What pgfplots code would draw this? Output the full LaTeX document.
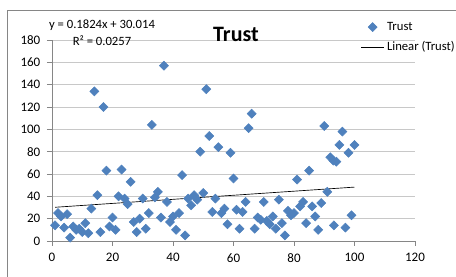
\documentclass[border=0pt]{standalone}
\usepackage{pgfplots}
\pgfplotsset{compat=1.18}
\usepackage{fontspec}
\setmainfont{Carlito}
\definecolor{mk}{RGB}{79,129,189}
\definecolor{gl}{RGB}{200,200,200}
\definecolor{ax}{RGB}{134,134,134}
\pgfplotstableread{
x y
1 14
2 25
3 22
4 12
5 24
6 3
7 13
8 10
9 11
10 8
11 16
12 7
13 29
14 134
15 41
16 8
17 120
18 63
19 13
20 21
21 10
22 40
23 64
24 38
25 33
26 53
27 17
28 8
29 20
30 38
31 11
32 25
33 104
34 39
35 44
36 21
37 157
38 35
39 17
40 22
41 10
42 25
43 59
44 5
45 38
46 32
47 41
48 37
49 80
50 43
51 136
52 94
53 26
54 38
55 84
56 25
57 29
58 15
59 79
60 56
61 28
62 11
63 26
64 35
65 101
66 114
67 11
68 21
69 19
70 35
71 18
72 15
73 22
74 11
75 37
76 16
77 5
78 27
79 23
80 25
81 55
82 31
83 35
84 16
85 63
86 31
87 22
88 10
89 34
90 103
91 44
92 75
93 72
93.2 14
94 71
95 86
96 98
97 12
98 79
99 23
100 86
}\trust
\begin{document}
\begin{tikzpicture}[x=0.75pt,y=0.75pt]
\path[use as bounding box] (0,0) rectangle (456,277);
\draw[ax, line width=0.6pt] (7,-5) -- (7,266.3) -- (470,266.3);
\begin{axis}[
  at={(39pt,27pt)}, anchor=south west,
  scale only axis, width=272.25pt, height=150.75pt,
  xmin=0, xmax=120, ymin=0, ymax=180,
  xtick={0,20,...,120}, ytick={0,20,...,180},
  axis lines*=left,
  axis line style={draw=ax, line width=0.6pt, -},
  tick align=outside, major tick length=3.75pt,
  tick style={draw=ax, line width=0.6pt},
  ymajorgrids, grid style={draw=gl, line width=0.6pt},
  ticklabel style={font=\fontsize{9.75}{11}\selectfont},
  /pgf/number format/assume math mode=true,
  yticklabel style={xshift=-1.5pt},
  xticklabel style={yshift=-2pt},
  legend style={at={(0.8504,1.104)}, anchor=north west, draw=none, fill=none,
    inner sep=0pt, font=\fontsize{9.5}{11}\selectfont, row sep=3pt},
  legend cell align=left,
]
\addplot[only marks, mark=square*, mark size=2.4pt,
  mark options={rotate=45, fill=mk, draw=mk}] table[x=x, y=y] {\trust};
\addlegendentry{Trust}
\addplot[black, line width=0.5pt] coordinates {(1,30.196) (100,48.254)};
\addlegendentry{Linear (Trust)}
\end{axis}
\node[font=\fontsize{16.5}{18}\selectfont\bfseries, anchor=base] at (236,235.3) {Trust};
\node[font=\fontsize{9.5}{11}\selectfont] at (102,252) {y = 0.1824x + 30.014};
\node[font=\fontsize{9.5}{11}\selectfont] at (102,236) {R² = 0.0257};
\end{tikzpicture}
\end{document}
